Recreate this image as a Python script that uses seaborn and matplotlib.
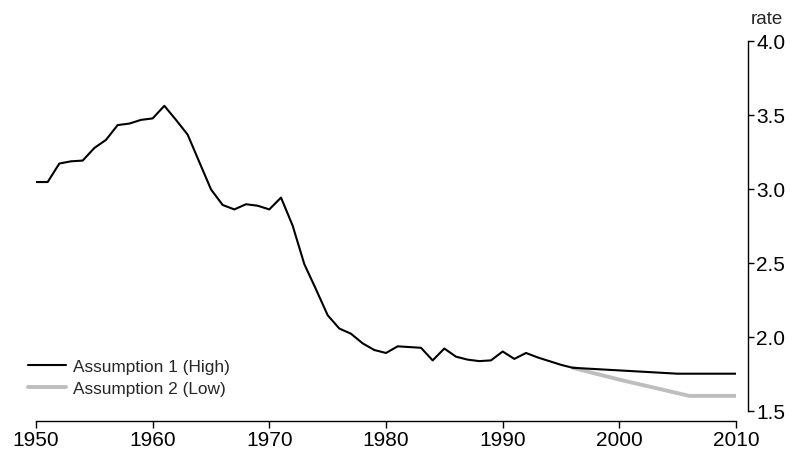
import numpy as np
import pandas as pd
import matplotlib
matplotlib.use('Agg')
from matplotlib import pyplot as plt
import seaborn as sns

# data
hist_years = list(range(1950, 1997))
hist_rate = [3.045, 3.045, 3.17, 3.185, 3.19, 3.275, 3.33, 3.43, 3.44, 3.465,
             3.475, 3.56, 3.465, 3.365, 3.18, 2.995, 2.89, 2.86, 2.895, 2.885,
             2.86, 2.94, 2.75, 2.49, 2.32, 2.145, 2.055, 2.02, 1.955, 1.91,
             1.89, 1.935, 1.93, 1.925, 1.84, 1.92, 1.865, 1.845, 1.835, 1.84,
             1.90, 1.85, 1.89, 1.86, 1.835, 1.81, 1.79]
high_years = [2005, 2010]
high_rate = [1.75, 1.75]
low_years = [1996, 2000, 2006, 2010]
low_rate = [1.79, 1.71, 1.60, 1.60]

x_ticks = [1950, 1960, 1970, 1980, 1990, 2000, 2010]
y_ticks = [1.5, 2.0, 2.5, 3.0, 3.5, 4.0]

sns.set_style('white')
plt.rcParams['font.family'] = ['Liberation Sans', 'DejaVu Sans']

fig = plt.figure(figsize=(7.95, 4.52), dpi=100)
ax = fig.add_axes([36 / 795, 1 - 411.7 / 452, 700 / 795, 370 / 452])

high_df = pd.DataFrame({'year': hist_years + high_years, 'rate': hist_rate + high_rate})
low_df = pd.DataFrame({'year': low_years, 'rate': low_rate})

sns.lineplot(data=high_df, x='year', y='rate', color='black', linewidth=1.5,
             label='Assumption 1 (High)', ax=ax, zorder=3)
sns.lineplot(data=low_df, x='year', y='rate', color='#bebebe', linewidth=2.8,
             label='Assumption 2 (Low)', ax=ax, zorder=2)

ax.set_xlim(1950, 2010)
ax.set_ylim(1.5, 4.0)
ax.set_xticks(x_ticks)
ax.set_yticks(y_ticks)
ax.set_yticklabels([f'{v:.1f}' for v in y_ticks])
ax.set_xlabel('')
ax.set_ylabel('')

sns.despine(ax=ax, left=True, right=False, top=True, bottom=False,
            offset={'right': 8.6, 'bottom': 7.2}, trim=True)
ax.yaxis.set_ticks_position('right')
for s in ['right', 'bottom']:
    ax.spines[s].set_color('black')
    ax.spines[s].set_linewidth(1.0)
ax.tick_params(axis='x', bottom=True, top=False, direction='out', length=5,
               width=1.0, color='black', pad=2, labelsize=15, labelcolor='black')
ax.tick_params(axis='y', right=True, left=False, direction='out', length=4,
               width=1.0, color='black', pad=2, labelsize=15, labelcolor='black')

fig.text(767 / 795, 1 - 20 / 452, 'rate', ha='center', va='center', fontsize=13.5)

ax.legend(loc='upper left', bbox_to_anchor=(28 / 795, 1 - 360 / 452),
          bbox_transform=fig.transFigure, frameon=False, fontsize=12.4,
          borderpad=0, borderaxespad=0, handlelength=2.2, handletextpad=0.4,
          labelspacing=0.4)

fig.savefig('out.png', dpi=100)
